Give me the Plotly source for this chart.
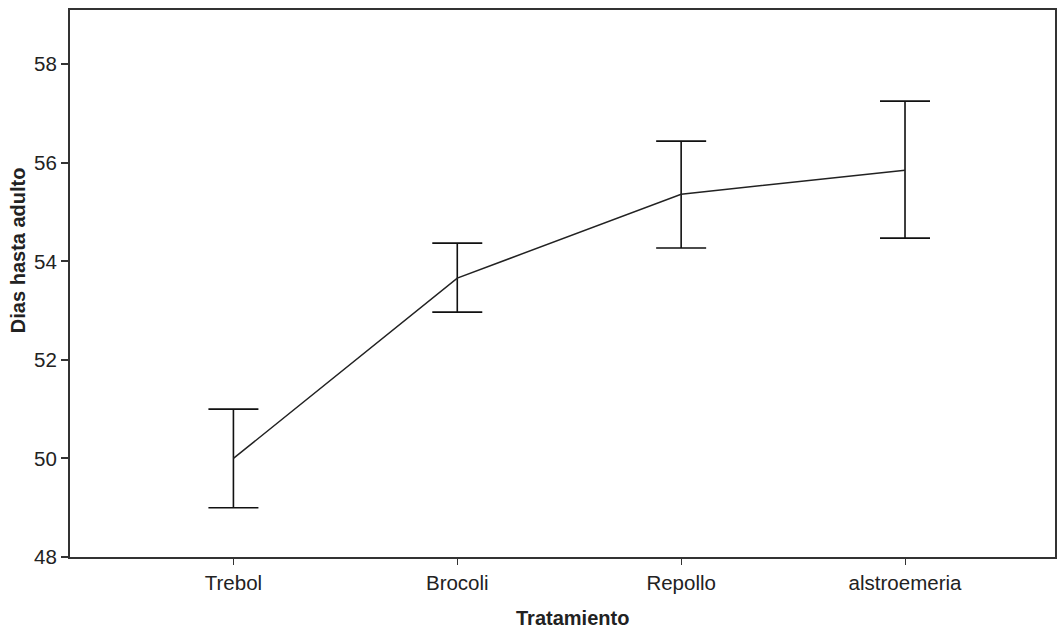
import plotly.graph_objects as go

# Treatment groups and mean days to adult with 95% CI bounds
tratamientos = ["Trebol", "Brocoli", "Repollo", "alstroemeria"]
media = [50.0, 53.66, 55.36, 55.85]
limite_sup = [51.0, 54.37, 56.44, 57.25]
limite_inf = [49.0, 52.97, 54.27, 54.47]
y_ticks = [48, 50, 52, 54, 56, 58]

err_plus = [s - m for s, m in zip(limite_sup, media)]
err_minus = [m - i for m, i in zip(media, limite_inf)]

fig = go.Figure()
fig.add_trace(go.Scatter(
    x=list(range(len(tratamientos))),
    y=media,
    mode="lines",
    line=dict(color="#222222", width=1.5),
    error_y=dict(type="data", array=err_plus, arrayminus=err_minus,
                 symmetric=False, color="#111111", thickness=1.6, width=25),
    showlegend=False,
))

font_family = "Liberation Sans, Arial, sans-serif"
fig.update_layout(
    width=1060, height=628,
    margin=dict(l=70, r=3, t=10, b=71),
    paper_bgcolor="white", plot_bgcolor="white",
    font=dict(family=font_family, color="#222222", size=20.5),
    xaxis=dict(
        range=[-0.73, 3.67],
        tickmode="array",
        tickvals=list(range(len(tratamientos))),
        ticktext=tratamientos,
        ticks="outside", ticklen=6, tickwidth=1, tickcolor="#333333",
        showline=True, linecolor="#333333", linewidth=2, mirror=True,
        showgrid=False, zeroline=False,
    ),
    yaxis=dict(
        range=[48, 59.1],
        tickmode="array",
        tickvals=y_ticks,
        ticks="outside", ticklen=7, tickwidth=1.5, tickcolor="#333333",
        showline=True, linecolor="#333333", linewidth=2, mirror=True,
        showgrid=False, zeroline=False,
    ),
    annotations=[
        dict(text="<b>Tratamiento</b>", xref="paper", yref="paper",
             x=0.51, y=0, yshift=-61, xanchor="center", yanchor="middle",
             showarrow=False, font=dict(size=20)),
        dict(text="<b>Dias hasta adulto</b>", xref="paper", yref="paper",
             x=0, xshift=-52, y=0.561, textangle=-90,
             xanchor="center", yanchor="middle",
             showarrow=False, font=dict(size=20)),
    ],
)

fig.write_html("out.html")
